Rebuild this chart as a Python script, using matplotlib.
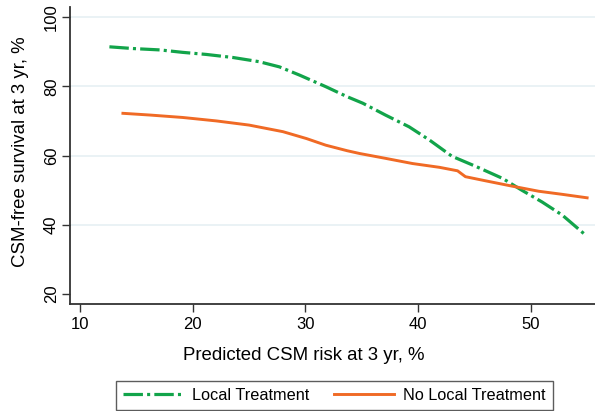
import matplotlib
matplotlib.use("Agg")
import matplotlib.pyplot as plt

plt.rcParams['font.family'] = ['Liberation Sans', 'DejaVu Sans']
plt.rcParams['lines.scale_dashes'] = False

# Local Treatment (green dash-dot)
lt_x = [12.6, 14.7, 17.1, 19.1, 21.2, 23.6, 25.9, 27.7, 29.5, 31.8, 33.7, 35.1, 37.1, 39.2, 41.0,
        43.0, 45.1, 47.5, 49.2, 51.0, 52.8, 54.7]
lt_y = [91.4, 90.9, 90.5, 89.8, 89.2, 88.3, 87.1, 85.6, 83.2, 79.9, 77.0, 75.1, 71.7, 68.3, 64.5,
        59.8, 56.9, 53.4, 50.0, 46.6, 42.8, 37.5]

# No Local Treatment (orange solid)
nlt_x = [13.8, 16.2, 19.1, 22.1, 25.0, 28.0, 30.1, 31.8, 33.7, 34.8, 37.1, 39.5, 41.9, 43.5, 44.2,
         46.0, 48.3, 50.7, 52.8, 55.0]
nlt_y = [72.2, 71.7, 71.0, 70.0, 68.8, 66.9, 64.9, 63.0, 61.4, 60.6, 59.2, 57.7, 56.6, 55.6, 53.9,
         52.7, 51.2, 49.7, 48.8, 47.8]

xticks = [10, 20, 30, 40, 50]
yticks = [20, 40, 60, 80, 100]

green = "#12a44a"
orange = "#f06a25"

fig = plt.figure(figsize=(5.95, 4.11), dpi=100)
ax = fig.add_axes([0.1176, 0.26, 0.8824, 0.723])

for yv in [40, 60, 80, 100]:
    ax.axhline(yv, color="#e6f0f3", lw=1.2, zorder=0)

l1, = ax.plot(lt_x, lt_y, color=green, lw=2.3, dashes=(14, 3, 2.2, 3), label="Local Treatment")
l2, = ax.plot(nlt_x, nlt_y, color=orange, lw=2.1, label="No Local Treatment")

ax.set_xlim(9.1, 55.7)
ax.set_ylim(17.1, 102.9)
ax.set_xticks(xticks)
ax.set_yticks(yticks)
ax.set_yticklabels([str(v) for v in yticks], rotation=90, va="center")
ax.tick_params(axis="both", labelsize=12, length=6, width=1.0, color="#333333", direction="out")
ax.tick_params(axis="x", pad=3)
ax.tick_params(axis="y", pad=2)

for s in ["top", "right"]:
    ax.spines[s].set_visible(False)
for s in ["left", "bottom"]:
    ax.spines[s].set_color("#333333")
    ax.spines[s].set_linewidth(1.3)

ax.set_xlabel("Predicted CSM risk at 3 yr, %", fontsize=13.4, va="top")
ax.xaxis.set_label_coords(0.4448, -0.143)
ax.set_ylabel("CSM-free survival at 3 yr, %", fontsize=13.4)
ax.yaxis.set_label_coords(-0.078, 0.513)

leg = fig.legend(handles=[l1, l2], loc="lower left", bbox_to_anchor=(116 / 595, 0.002),
                 ncol=2, fontsize=11.7, frameon=True, fancybox=False,
                 handlelength=3.7, columnspacing=1.5, borderpad=0.45, handletextpad=0.55,
                 borderaxespad=0)
leg.get_frame().set_edgecolor("#333333")
leg.get_frame().set_linewidth(1.0)

fig.savefig("out.png", dpi=100)
